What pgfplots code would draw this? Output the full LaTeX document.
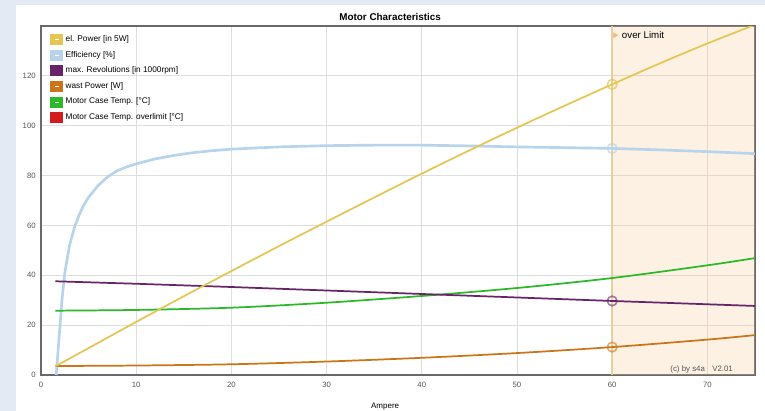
\documentclass[border=0pt]{standalone}
\usepackage{pgfplots}
\pgfplotsset{compat=1.18}
\usepackage{fontspec}
\setmainfont{Liberation Sans}
\definecolor{cYel}{RGB}{229,198,82}
\definecolor{cBlu}{RGB}{184,212,234}
\definecolor{cPur}{RGB}{104,36,104}
\definecolor{cOra}{RGB}{204,116,24}
\definecolor{cGre}{RGB}{44,184,40}
\definecolor{cRed}{RGB}{210,28,32}
\definecolor{cBg}{RGB}{228,234,244}
\definecolor{cLim}{RGB}{228,208,160}
\definecolor{cPeach}{RGB}{250,200,150}
\definecolor{cTri}{RGB}{240,190,120}
\definecolor{cGrid}{RGB}{222,222,222}
\definecolor{cFrame}{RGB}{105,105,105}
\definecolor{cTick}{RGB}{85,85,85}
\newcommand{\patch}[2]{\addlegendimage{legend image code/.code={\fill[#1] (0pt,-3.7pt) rectangle (9pt,3.7pt); #2}}}
\begin{document}
\begin{tikzpicture}
\fill[white] (0,0) rectangle (573.75pt,308.25pt);
\fill[cBg] (0,0) rectangle (12pt,308.25pt);
\fill[cBg] (0,304.5pt) rectangle (573.75pt,308.25pt);
\path[use as bounding box] (0,0) rectangle (573.75pt,308.25pt);
\begin{axis}[
  at={(30.75pt,27pt)}, anchor=south west,
  scale only axis, width=535.5pt, height=261.75pt,
  xmin=0, xmax=75, ymin=0, ymax=140,
  xtick={0,10,...,70}, ytick={0,20,...,140},
  yticklabels={0,20,40,60,80,100,120,},
  major tick length=0pt,
  grid=major, grid style={cGrid, line width=0.6pt},
  axis line style={cFrame, line width=1.3pt},
  tick label style={font=\fontsize{5.8}{6.5}\selectfont, text=cTick},
  /pgf/number format/assume math mode=true,
  xticklabel style={yshift=-1.5pt},
  yticklabel style={xshift=-0.5pt},
  title={\textbf{Motor Characteristics}},
  title style={font=\fontsize{7.4}{8.5}\selectfont, at={(axis description cs:0.489,1)}, anchor=center, yshift=1pt},
  xlabel={Ampere},
  xlabel style={font=\fontsize{6}{7}\selectfont, at={(axis description cs:0.482,0)}, anchor=center, yshift=-24pt},
  legend style={draw=none, fill=none, font=\fontsize{6.2}{7}\selectfont, at={(axis description cs:0.011,0.985)}, anchor=north west, row sep=1.7pt, inner sep=1pt},
  legend cell align=left,
]
% over-limit region
\addplot[draw=none, fill=cPeach, fill opacity=0.25, forget plot] coordinates {(60,140) (75,140)} \closedcycle;
\addplot[cLim, line width=1.1pt, forget plot] coordinates {(60,0) (60,140)};
% efficiency
\addplot[cBlu, line width=2pt, forget plot] coordinates {
(1.6,0)(1.9,15)(2.2,30)(2.5,41)(3,52)(3.5,59)(4,64.2)(4.5,68.2)(5,71.3)(6,76)(7,79.5)(8,81.9)(9,83.5)(10,84.7)(12,86.7)(14,88.1)(16,89.2)(18,90)(20,90.6)(25,91.5)(30,92)(35,92.2)(40,92.2)(45,91.9)(50,91.5)(55,91.2)(60,90.9)(65,90.3)(70,89.6)(75,88.8)};
% waste power
\addplot[cOra, line width=1.3pt, smooth, forget plot] coordinates {
(1.5,3.6)(10,3.8)(20,4.3)(30,5.4)(40,6.9)(50,8.8)(60,11.2)(70,14.2)(75,16)};
% case temp
\addplot[cGre, line width=1.3pt, smooth, forget plot] coordinates {
(1.5,25.8)(10,26.1)(20,27)(30,29)(40,31.7)(50,34.9)(60,38.9)(70,44)(75,46.9)};
% revolutions
\addplot[cPur, line width=1.3pt, forget plot] coordinates {
(1.5,37.6)(10,36.6)(20,35.3)(30,33.9)(40,32.5)(50,31.1)(60,29.7)(75,27.7)};
% el. power
\addplot[cYel, line width=1.3pt, smooth, forget plot] coordinates {
(1.5,3.5)(5,10.8)(10,21.3)(15,31.6)(20,41.7)(25,51.7)(30,61.5)(35,71.2)(40,80.8)(45,90.1)(50,99.2)(55,108)(60,116.6)(65,125)(70,133)(75,140.5)};
% markers at limit
\addplot[only marks, mark=o, mark size=3.6pt, cYel, line width=1.2pt, opacity=0.7, forget plot] coordinates {(60,116.6)};
\addplot[only marks, mark=o, mark size=3.6pt, cBlu, line width=1.2pt, opacity=0.7, forget plot] coordinates {(60,90.9)};
\addplot[only marks, mark=o, mark size=3.6pt, cPur, line width=1.2pt, opacity=0.6, forget plot] coordinates {(60,29.7)};
\addplot[only marks, mark=o, mark size=3.6pt, cOra, line width=1.2pt, opacity=0.6, forget plot] coordinates {(60,11.2)};
\addplot[only marks, mark=triangle*, mark size=2pt, mark options={rotate=-90}, color=cTri, forget plot] coordinates {(60.3,136.3)};
\node[anchor=west, font=\fontsize{7.3}{8.5}\selectfont, inner sep=0pt] at (axis cs:61,136.5) {over Limit};
\node[anchor=east, font=\fontsize{5.9}{7}\selectfont, text=cTick, inner sep=0pt] at (axis cs:72.7,2.1) {(c) by s4a\hspace{5.5pt}V2.01};
% legend
\patch{cYel}{\draw[white,line width=0.5pt] (3pt,0pt)--(6pt,0pt);}
\addlegendentry{el. Power [in 5W]}
\patch{cBlu}{\draw[white,line width=0.5pt] (3pt,0pt)--(6pt,0pt);}
\addlegendentry{Efficiency [\%]}
\patch{cPur}{}
\addlegendentry{max. Revolutions [in 1000rpm]}
\patch{cOra}{\draw[white,line width=0.5pt] (3pt,0pt)--(6pt,0pt);}
\addlegendentry{wast Power [W]}
\patch{cGre}{\draw[white,line width=0.5pt] (3pt,0pt)--(6pt,0pt);}
\addlegendentry{Motor Case Temp. [°C]}
\patch{cRed}{}
\addlegendentry{Motor Case Temp. overlimit [°C]}
\end{axis}
\end{tikzpicture}
\end{document}
